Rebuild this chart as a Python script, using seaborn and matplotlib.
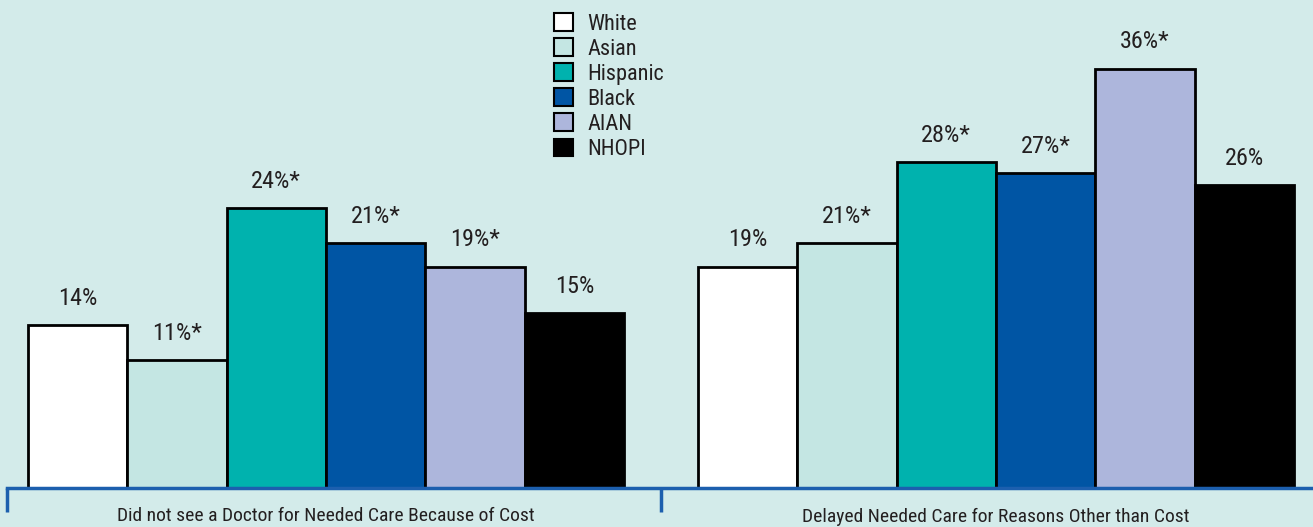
import matplotlib
matplotlib.use("Agg")
import matplotlib.pyplot as plt
from matplotlib.patches import Patch
import seaborn as sns
import pandas as pd

measures = [
    "Did not see a Doctor for Needed Care Because of Cost",
    "Delayed Needed Care for Reasons Other than Cost",
]
groups = ["White", "Asian", "Hispanic", "Black", "AIAN", "NHOPI"]
cost_values = [14, 11, 24, 21, 19, 15]
other_values = [19, 21, 28, 27, 36, 26]
cost_flags = ["", "*", "*", "*", "*", ""]
other_flags = ["", "*", "*", "*", "*", ""]

colors = ["#FFFFFF", "#C4E6E3", "#00B2AE", "#0055A4", "#ADB6DC", "#000000"]
bg = "#D3EBEA"
axis_blue = "#1C5FAE"
text_color = "#231F20"

df = pd.DataFrame({
    "measure": [measures[0]] * 6 + [measures[1]] * 6,
    "group": groups * 2,
    "value": cost_values + other_values,
    "flag": cost_flags + other_flags,
})

sns.set_theme(style="white")
plt.rcParams["font.family"] = ["Roboto Condensed", "Open Sans Condensed",
                               "Liberation Sans Narrow", "Roboto", "DejaVu Sans"]

fig = plt.figure(figsize=(13.13, 5.27), dpi=100, facecolor=bg)
ax = fig.add_axes([0, 39 / 527, 1, 466 / 527])
ax.set_facecolor(bg)

sns.barplot(data=df, x="measure", y="value", hue="group", order=measures,
            hue_order=groups, palette=colors, width=0.89, dodge=True,
            edgecolor="black", linewidth=2, saturation=1, legend=False, ax=ax)

ax.set_ylim(0, 40)
ax.set_xlim(-326 / 670, (1313 - 326) / 670)

# value labels above each bar
for container, grp in zip(ax.containers, groups):
    sub = df[df["group"] == grp].set_index("measure").loc[measures]
    labels = [f"{v}%{f}" for v, f in zip(sub["value"], sub["flag"])]
    ax.bar_label(container, labels=labels, padding=11, fontsize=17.5,
                 color=text_color)

for s in ["top", "right", "left"]:
    ax.spines[s].set_visible(False)
ax.spines["bottom"].set_color(axis_blue)
ax.spines["bottom"].set_linewidth(2.5)
ax.spines["bottom"].set_bounds(-0.476, ax.get_xlim()[1])

ax.set_yticks([])
ax.set_xticks([0, 1])
ax.set_xticklabels(measures, fontsize=14, color=text_color)
ax.tick_params(axis="x", which="major", length=0, pad=14, bottom=True)
ax.set_xticks([-0.476, 0.5], minor=True)
ax.tick_params(axis="x", which="minor", length=17, width=2.5, bottom=True,
               color=axis_blue, direction="out")
ax.set_xlabel("")
ax.set_ylabel("")

handles = [Patch(facecolor=c, edgecolor="black", linewidth=1.5) for c in colors]
leg = ax.legend(handles, groups, loc="upper left",
                bbox_to_anchor=(554 / 1313, 1 - 13 / 527),
                bbox_transform=fig.transFigure, frameon=False, fontsize=16,
                handlelength=0.85, handleheight=0.85, labelspacing=0.16,
                handletextpad=0.65, borderpad=0, borderaxespad=0,
                labelcolor=text_color)

fig.savefig("out.png", dpi=100, facecolor=bg)
